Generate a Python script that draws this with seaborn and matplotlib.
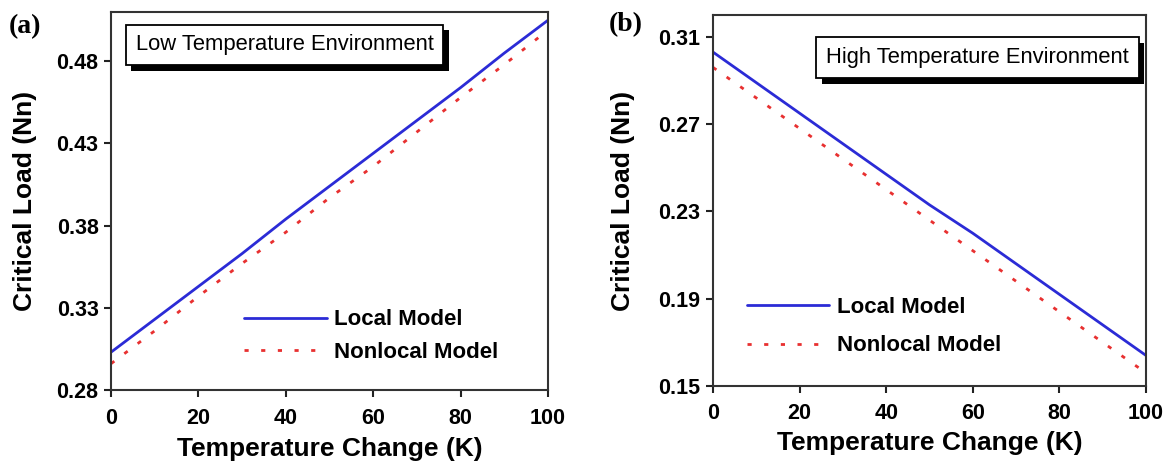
import matplotlib
matplotlib.use("Agg")
import matplotlib.pyplot as plt
import matplotlib.patheffects as pe
import pandas as pd
import seaborn as sns

# Temperature change (K)
temp_change = [0, 10, 20, 30, 40, 50, 60, 70, 80, 90, 100]

# Critical load (nN), low temperature environment
low_local = [0.303, 0.323, 0.343, 0.363, 0.384, 0.404, 0.424, 0.444, 0.464, 0.485, 0.505]
low_nonlocal = [0.296, 0.316, 0.337, 0.357, 0.376, 0.397, 0.416, 0.437, 0.458, 0.478, 0.499]

# Critical load (nN), high temperature environment
high_local = [0.303, 0.289, 0.275, 0.261, 0.247, 0.233, 0.220, 0.206, 0.192, 0.178, 0.164]
high_nonlocal = [0.296, 0.282, 0.268, 0.254, 0.240, 0.226, 0.212, 0.198, 0.184, 0.170, 0.156]

models = ["Local Model", "Nonlocal Model"]
low_yticks = [0.28, 0.33, 0.38, 0.43, 0.48]
high_yticks = [0.15, 0.19, 0.23, 0.27, 0.31]
xticks = [0, 20, 40, 60, 80, 100]


def long_frame(local, nonlocal_):
    return pd.DataFrame({
        "T": temp_change * 2,
        "load": local + nonlocal_,
        "model": [models[0]] * len(local) + [models[1]] * len(nonlocal_),
    })


sns.set_style("ticks")
plt.rcParams["font.family"] = ["Liberation Sans", "DejaVu Sans"]
plt.rcParams["text.color"] = "black"
plt.rcParams["axes.labelcolor"] = "black"
plt.rcParams["xtick.color"] = "black"
plt.rcParams["ytick.color"] = "black"
plt.rcParams["axes.linewidth"] = 1.5
plt.rcParams["xtick.major.width"] = 1.5
plt.rcParams["ytick.major.width"] = 1.5
plt.rcParams["xtick.major.size"] = 5
plt.rcParams["ytick.major.size"] = 5

W, H = 1168, 462
fig = plt.figure(figsize=(W / 100, H / 100), dpi=100)

panels = [
    dict(rect=(111, 12, 548, 390), local=low_local, nonlocal_=low_nonlocal,
         ylim=(0.28, 0.51), yticks=low_yticks, fmt="{:.2f}",
         note="Low Temperature Environment", note_xy=(0.397, 0.913),
         leg_xy=(0.285, 0.143), leg_space=0.5, tag="(a)", tag_xy=(25, 27),
         ylabel_x=37, xpad=8, xlabelpad=6),
    dict(rect=(713, 15, 1146, 386), local=high_local, nonlocal_=high_nonlocal,
         ylim=(0.15, 0.32), yticks=high_yticks, fmt="{:.2f}",
         note="High Temperature Environment", note_xy=(0.611, 0.885),
         leg_xy=(0.057, 0.160), leg_space=0.78, tag="(b)", tag_xy=(626, 25),
         ylabel_x=635, xpad=7, xlabelpad=5),
]

palette = {models[0]: "#2b2bd6", models[1]: "#e83030"}

for p in panels:
    x0, y0, x1, y1 = p["rect"]
    ax = fig.add_axes([x0 / W, (H - y1) / H, (x1 - x0) / W, (y1 - y0) / H])
    df = long_frame(p["local"], p["nonlocal_"])
    sns.lineplot(data=df, x="T", y="load", hue="model", style="model",
                 palette=palette, dashes={models[0]: "", models[1]: (1.5, 4.5)},
                 linewidth=2.0, ax=ax, legend=True)
    ax.set_xlim(0, 100)
    ax.set_ylim(*p["ylim"])
    ax.set_xticks(xticks)
    ax.set_yticks(p["yticks"])
    ax.set_yticklabels([p["fmt"].format(v) for v in p["yticks"]])
    for lab in ax.get_xticklabels() + ax.get_yticklabels():
        lab.set_fontweight("bold")
        lab.set_fontsize(15.5)
    ax.tick_params(axis="both", colors="#222222", labelcolor="black")
    ax.tick_params(axis="y", pad=4)
    ax.tick_params(axis="x", pad=p["xpad"])
    for s in ax.spines.values():
        s.set_visible(True)
        s.set_color("#333333")
    ax.set_xlabel("Temperature Change (K)", fontsize=19, fontweight="bold",
                  labelpad=p["xlabelpad"], color="black")
    ax.set_ylabel("Critical Load (Nn)", fontsize=19, fontweight="bold", color="black")
    ax.yaxis.set_label_coords((p["ylabel_x"] - x0) / (x1 - x0), 0.5)

    leg = ax.legend(loc="center left", bbox_to_anchor=p["leg_xy"], frameon=False,
                    handlelength=3.7, handletextpad=0.35, labelspacing=p["leg_space"],
                    borderaxespad=0, prop={"weight": "bold", "size": 16})
    for line in leg.get_lines():
        line.set_linewidth(2.0)
    for txt in leg.get_texts():
        txt.set_color("black")

    t = ax.text(*p["note_xy"], p["note"], transform=ax.transAxes, ha="center",
                va="center", fontsize=15.8, color="black",
                bbox=dict(boxstyle="square,pad=0.45", fc="white", ec="black", lw=1.3))
    t.get_bbox_patch().set_path_effects([
        pe.SimplePatchShadow(offset=(4, -4), shadow_rgbFace="black", alpha=1.0),
        pe.Normal(),
    ])

    fig.text(p["tag_xy"][0] / W, 1 - p["tag_xy"][1] / H, p["tag"], ha="center",
             va="center", fontsize=20, fontweight="bold", color="black",
             family=["Liberation Serif", "DejaVu Serif"])

fig.savefig("out.png", dpi=100)
